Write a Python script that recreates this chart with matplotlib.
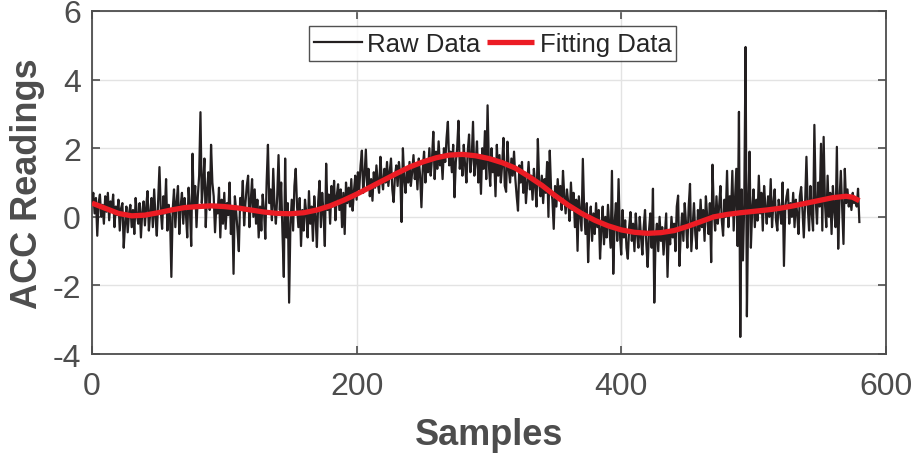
from __future__ import annotations

import matplotlib

matplotlib.use("Agg")
import matplotlib.pyplot as plt
import numpy as np


# raw accelerometer readings, one value per sample (0..580)
RAW_VALUES = [
    0.45, 0.70, 0.10, 0.55, -0.55, 0.40, 0.65, 0.00, 0.35, -0.20, 0.60, 0.15, 0.70, -0.10, 0.45, 0.20, 0.65, -0.30, 0.30, 0.05,
    0.50, -0.40, 0.25, 0.40, -0.90, -0.20, 0.30, -0.45, 0.10, 0.35, -0.30, 0.20, -0.50, 0.55, 0.05, -0.20, 0.40, -0.60, 0.15, 0.45,
    -0.25, 0.30, 0.75, -0.40, 0.10, 0.55, -0.30, 0.80, 0.00, -0.55, 0.45, 1.45, 0.20, -0.35, 0.60, 0.10, 1.10, -0.40, 0.35, 0.00,
    -1.75, 0.20, 0.80, -0.30, 0.45, 0.90, -0.50, 0.30, 0.70, -0.20, 0.55, 0.10, -0.60, 0.85, 0.25, -0.85, 1.84, 0.30, 0.90, -0.30,
    0.60, 1.20, 3.05, 0.40, 0.95, 1.70, -0.30, 0.80, 1.30, 0.20, 2.10, 1.00, 0.60, -0.45, 0.35, 0.10, 0.85, -0.60, 0.50, -0.20,
    0.70, -0.35, 0.40, 0.05, 1.00, -0.50, 0.30, -1.66, 0.60, 0.15, -0.40, -1.00, 0.55, 0.20, 1.05, -0.25, 0.40, 0.90, 1.20, -0.30,
    0.45, 1.10, 0.00, 0.80, -0.20, 0.50, -0.60, 0.30, -0.40, 0.65, 0.20, -0.64, 1.00, 2.10, 0.40, 0.80, -0.10, 1.40, 0.30, -0.20,
    0.60, 1.80, 0.20, 1.00, -0.50, -1.75, 1.70, -0.60, 0.40, -2.50, -0.20, 0.50, -0.40, 0.90, 1.40, 0.30, -0.30, 0.55, -0.85, 0.20,
    -0.40, 0.50, 0.10, -0.60, 0.75, -0.20, 0.30, -0.70, 0.60, 0.00, -0.88, 0.45, 1.05, -0.30, 0.70, 0.10, -0.85, 1.55, 0.20, 0.65,
    -0.20, 0.90, 0.30, 1.05, -0.10, 0.60, 0.95, 0.20, 0.80, -0.30, 0.70, -0.50, 1.00, 0.40, 0.85, 0.30, 1.10, 0.18, 0.75, 1.20,
    0.50, 1.30, 0.80, 1.50, 1.93, 0.70, 1.20, 1.96, 0.90, 1.40, 0.60, 1.10, 0.47, 1.30, 0.85, 1.50, 1.00, 0.70, 1.75, 1.10,
    0.80, 1.40, 1.00, 1.60, 0.90, 1.30, 1.70, 0.80, 0.43, 1.20, 1.50, 0.90, 1.60, 1.20, -0.15, 2.00, 1.10, 0.70, 1.40, 1.00,
    1.60, 0.90, 1.30, 1.80, 1.10, 1.50, 0.80, 1.70, 1.20, 0.28, 1.40, 1.90, 1.00, 1.60, 1.30, 2.00, 1.20, 1.70, 2.48, 1.10,
    1.90, 1.40, 2.20, 1.50, 1.80, 1.10, 2.00, 1.60, 2.30, 2.77, 1.50, 1.90, 1.30, 2.10, 0.57, 1.60, 2.00, 2.80, 1.40, 1.80,
    1.20, 2.10, 1.50, 1.00, 1.90, 2.40, 1.30, 1.70, 2.77, 1.20, 1.60, 2.20, 1.00, 1.80, 0.67, 2.00, 1.40, 2.50, 1.10, 3.25,
    1.50, 0.90, 2.00, 1.30, 1.70, 0.60, 2.10, 1.20, 1.80, 1.00, 1.50, 2.30, 0.90, 0.73, 2.19, 1.40, 1.00, 1.70, 1.20, 1.90,
    1.10, 0.60, 0.18, 1.50, 1.00, 1.60, 0.70, 1.30, 0.40, 1.00, 1.60, 0.80, 1.20, 0.50, 1.40, 0.90, 0.30, 2.27, 1.00, 0.60,
    1.20, 0.40, 1.10, 0.70, 1.60, 0.00, 1.93, 0.80, 0.50, -0.35, 0.90, 0.30, 1.10, 0.50, 0.90, 0.20, 1.34, 0.60, 0.10, 0.80,
    0.40, -0.12, 1.00, 0.20, 0.70, -0.30, 0.50, -0.99, 0.60, 0.10, -0.40, 1.69, 0.20, -0.50, 0.40, -1.32, -0.20, 0.30, -0.70, 0.10,
    -0.50, 0.40, -0.30, 0.20, -1.22, -0.40, 0.30, -0.80, 0.00, -0.60, 0.35, -0.30, -0.90, 1.34, -1.66, -0.20, 0.40, -0.70, 1.10, -0.50,
    -1.10, 0.20, -0.60, -0.10, -0.90, -1.22, -0.30, 0.14, -0.70, -0.20, -1.00, 0.10, -0.50, -0.90, 0.00, -0.60, -1.10, -0.30, 0.20, -0.80,
    -1.46, -0.40, 0.10, -0.90, 0.82, -2.50, -0.60, -0.20, -1.00, 0.00, -0.70, -0.30, -1.10, -0.50, 0.10, -1.75, -0.40, -0.80, 0.00, -0.60,
    -0.20, -1.00, 0.30, 0.62, -1.43, -0.50, 0.10, -0.70, 0.40, -0.20, -0.90, 0.30, 0.96, -1.00, -0.30, 0.40, -0.50, -0.93, 0.20, -0.40,
    0.50, -0.30, 0.20, -0.70, 0.60, 0.00, -0.50, 0.40, -1.32, 1.52, 0.20, -0.40, 0.60, -0.20, 0.30, 0.90, -0.10, -0.55, 0.50, 0.00,
    1.34, -0.30, 0.60, 0.10, 1.34, -0.40, 0.50, 1.40, -0.85, 3.06, -3.50, 0.80, -1.27, 0.40, 4.95, -2.90, 0.30, 1.90, -0.90, 0.20,
    0.80, -0.30, 0.50, -0.11, 1.20, 0.10, 0.70, -0.40, 0.90, 0.30, -0.20, 0.60, 0.00, 1.10, -0.30, 0.40, 0.80, -0.10, -0.40, 0.50,
    0.20, -0.20, 1.00, -1.43, 0.30, 0.60, 0.80, -0.20, 0.40, 0.00, 0.70, -0.30, 0.50, 0.10, -0.50, 0.60, 0.87, 0.20, -0.60, 0.40,
    1.75, 0.30, -0.40, 0.90, 0.10, -0.40, 2.68, 0.50, -0.20, 1.00, 0.30, 2.13, -0.40, 2.33, 0.40, -0.30, 1.20, 0.00, 0.70, -0.50,
    0.90, 0.20, -0.30, 2.04, -0.93, 0.50, 1.34, 0.30, -0.79, 1.40, 0.40, 0.80, 0.30, 0.60, 0.20, 0.70, 0.40, 0.50, 0.30, 0.82,
    -0.15,
]

# fitted curve, read at every 10th sample
FIT_SAMPLES = [
    0, 10, 20, 30, 40, 50, 60, 70, 80, 90, 100, 110, 120, 130, 140, 150, 160, 170, 180, 190,
    200, 210, 220, 230, 240, 250, 260, 270, 280, 290, 300, 310, 320, 330, 340, 350, 360, 370, 380, 390,
    400, 410, 420, 430, 440, 450, 460, 470, 480, 490, 500, 510, 520, 530, 540, 550, 560, 570, 575, 580,
]
FIT_VALUES = [
    0.40, 0.25, 0.10, 0.03, 0.05, 0.12, 0.20, 0.27, 0.30, 0.32, 0.30, 0.26, 0.20, 0.14, 0.10, 0.09, 0.12, 0.20, 0.32, 0.48,
    0.66, 0.86, 1.06, 1.26, 1.45, 1.60, 1.72, 1.80, 1.82, 1.78, 1.70, 1.58, 1.42, 1.18, 0.92, 0.62, 0.34, 0.10, -0.10, -0.26,
    -0.38, -0.45, -0.48, -0.46, -0.40, -0.28, -0.14, 0.00, 0.07, 0.12, 0.16, 0.20, 0.25, 0.32, 0.40, 0.48, 0.56, 0.60, 0.57, 0.47,
]

X_TICKS = [0, 200, 400, 600]
Y_TICKS = [-4, -2, 0, 2, 4, 6]

AXIS_GRAY = "#4d4d4d"
RAW_COLOR = "#231f20"
FIT_COLOR = "#ec1c24"


def main() -> None:
    plt.rcParams["font.family"] = ["Liberation Sans", "DejaVu Sans"]
    plt.rcParams["axes.unicode_minus"] = False

    fig = plt.figure(figsize=(9.17, 4.60), dpi=100)
    ax = fig.add_axes([0.1003, 0.228, 0.8657, 0.746])

    raw = np.asarray(RAW_VALUES, dtype=float)
    samples = np.arange(len(raw))

    ax.plot(samples, raw, color=RAW_COLOR, linewidth=1.6, label="Raw Data", zorder=3)
    ax.plot(
        FIT_SAMPLES,
        FIT_VALUES,
        color=FIT_COLOR,
        linewidth=3.8,
        solid_joinstyle="round",
        solid_capstyle="butt",
        label="Fitting Data",
        zorder=4,
    )

    ax.set_xlim(0, 600)
    ax.set_ylim(-4, 6)
    ax.set_xticks(X_TICKS)
    ax.set_yticks(Y_TICKS)
    ax.grid(True, color="#e3e3e3", linewidth=1.0, zorder=0)
    ax.set_axisbelow(True)

    for spine in ax.spines.values():
        spine.set_color(AXIS_GRAY)
        spine.set_linewidth(1.3)
    ax.tick_params(
        direction="in",
        length=6,
        width=1.2,
        colors=AXIS_GRAY,
        labelsize=23,
        top=True,
        right=True,
    )
    ax.tick_params(axis="x", pad=12)
    ax.tick_params(axis="y", pad=8)

    ax.set_xlabel("Samples", fontsize=26, fontweight="bold", color=AXIS_GRAY, labelpad=12)
    ax.set_ylabel("ACC Readings", fontsize=26, fontweight="bold", color=AXIS_GRAY, labelpad=5)

    leg = ax.legend(
        loc="upper center",
        bbox_to_anchor=(0.505, 0.955),
        ncol=2,
        fontsize=18.5,
        frameon=True,
        fancybox=False,
        handlelength=1.85,
        handletextpad=0.2,
        columnspacing=0.25,
        borderpad=0.2,
        borderaxespad=0.0,
    )
    leg.get_frame().set_edgecolor("#262626")
    leg.get_frame().set_linewidth(1.0)
    for text in leg.get_texts():
        text.set_color("#262626")

    fig.savefig("out.png", dpi=100)
    plt.close(fig)


if __name__ == "__main__":
    main()
